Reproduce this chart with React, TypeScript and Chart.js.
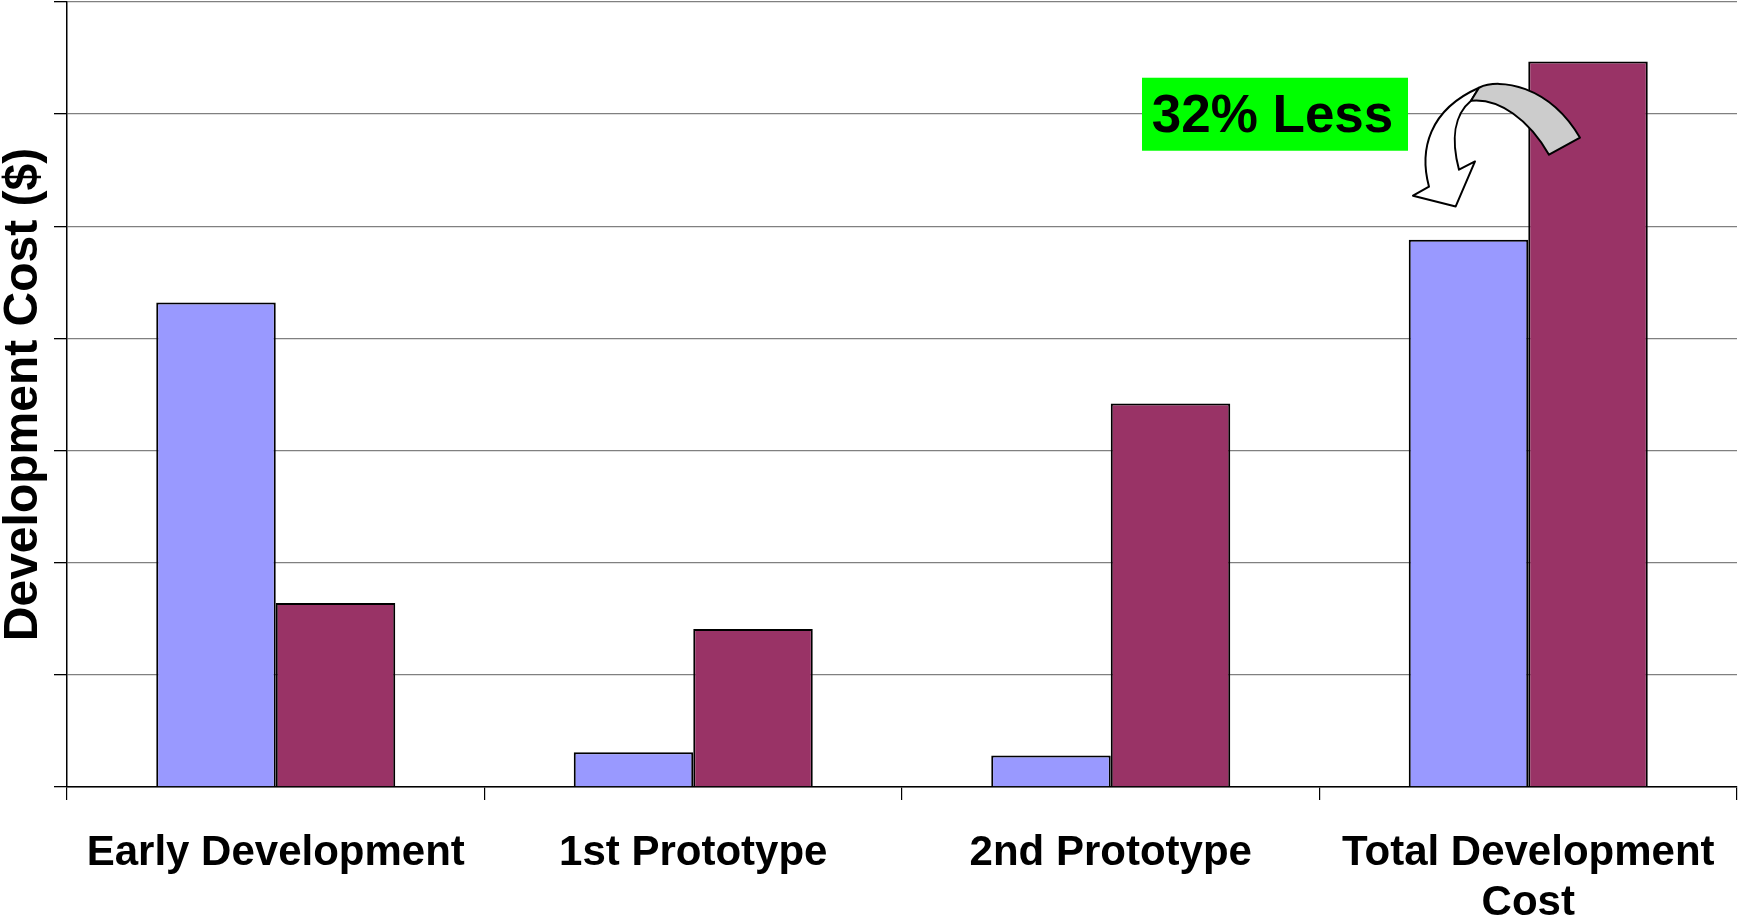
import React, { useEffect, useRef } from "react";
import { Chart, registerables } from "chart.js";

Chart.register(...registerables);

const categories: (string | string[])[] = [
  "Early Development",
  "1st Prototype",
  "2nd Prototype",
  ["Total Development", "Cost"],
];
const seriesA = [4.32, 0.31, 0.28, 4.88];
const seriesB = [1.64, 1.41, 3.42, 6.47];
const yTitle = "Development Cost ($)";
const calloutText = "32% Less";

const FONT = "'Liberation Sans', Arial, sans-serif";

const calloutPlugin = {
  id: "callout",
  afterDatasetsDraw(chart: any) {
    const meta = chart.getDatasetMeta(1);
    const bar = meta && meta.data && meta.data[3];
    if (!bar) return;
    const rx = bar.x;
    const ry = bar.y;
    const p = (dx: number, dy: number): [number, number] => [rx + dx, ry + dy];
    const ctx = chart.ctx;
    ctx.save();
    // green box
    const [bx1, by1] = p(-446, 16.3);
    const [bx2, by2] = p(-180, 89.3);
    ctx.fillStyle = "#00FF00";
    ctx.fillRect(bx1, by1, bx2 - bx1, by2 - by1);
    ctx.fillStyle = "#000";
    ctx.font = `bold 53px ${FONT}`;
    ctx.textAlign = "center";
    ctx.textBaseline = "alphabetic";
    const [tx, ty] = p(-315.5, 71);
    ctx.fillText(calloutText, tx, ty);

    ctx.lineWidth = 2;
    ctx.strokeStyle = "#000";
    ctx.lineJoin = "round";
    // white back part with arrow head
    ctx.beginPath();
    ctx.moveTo(...p(-109, 26.3));
    ctx.bezierCurveTo(...p(-159, 48.3), ...p(-169, 88.3), ...p(-159, 125.3));
    ctx.lineTo(...p(-175, 134.3));
    ctx.lineTo(...p(-132.3, 145));
    ctx.lineTo(...p(-113, 100));
    ctx.lineTo(...p(-129, 108.3));
    ctx.bezierCurveTo(...p(-137, 78.3), ...p(-134, 53.3), ...p(-117, 39.3));
    ctx.closePath();
    ctx.fillStyle = "#FFFFFF";
    ctx.fill();
    ctx.stroke();
    // grey front band
    ctx.beginPath();
    ctx.moveTo(...p(-109, 26.3));
    ctx.bezierCurveTo(...p(-89, 16.3), ...p(-39, 23.3), ...p(-8, 76.3));
    ctx.lineTo(...p(-39, 93.3));
    ctx.bezierCurveTo(...p(-59, 58.3), ...p(-89, 36.3), ...p(-117, 39.3));
    ctx.closePath();
    ctx.fillStyle = "#CCCCCC";
    ctx.fill();
    ctx.stroke();
    ctx.restore();
  },
};

export default function App() {
  const ref = useRef<HTMLCanvasElement | null>(null);
  useEffect(() => {
    if (!ref.current) return;
    const chart = new Chart(ref.current, {
      type: "bar",
      data: {
        labels: categories as any,
        datasets: [
          {
            label: "A",
            data: seriesA,
            backgroundColor: "#9999FF",
            borderColor: "#000000",
            borderWidth: 2,
            categoryPercentage: 0.5725,
            barPercentage: 1.0,
          },
          {
            label: "B",
            data: seriesB,
            backgroundColor: "#993366",
            borderColor: "#000000",
            borderWidth: 2,
            categoryPercentage: 0.5725,
            barPercentage: 1.0,
          },
        ],
      },
      options: {
        responsive: false,
        animation: false,
        layout: { padding: { top: 2, right: 1, bottom: 0, left: 0 } },
        plugins: {
          legend: { display: false },
          tooltip: { enabled: false },
        },
        scales: {
          x: {
            grid: {
              drawOnChartArea: false,
              drawTicks: true,
              tickLength: 13,
              color: "#000000",
              offset: true,
              lineWidth: 1.2,
            },
            border: { display: true, color: "#000000", width: 1.5 },
            ticks: {
              color: "#000000",
              font: { family: FONT, size: 42, weight: "bold", lineHeight: 1.2 },
              padding: 28,
              maxRotation: 0,
              minRotation: 0,
              autoSkip: false,
            },
            afterFit: (scale: any) => {
              scale.height = 133;
              scale.paddingLeft = 0;
              scale.paddingRight = 0;
            },
          },
          y: {
            min: 0,
            max: 7,
            ticks: { stepSize: 1, display: false },
            grid: {
              color: "#808080",
              lineWidth: 1.3,
              tickLength: 13,
              tickColor: "#000000",
              drawTicks: true,
            },
            border: { display: true, color: "#000000", width: 1.5 },
            title: {
              display: true,
              text: yTitle,
              color: "#000000",
              font: { family: FONT, size: 48, weight: "bold", lineHeight: 1 },
              padding: { top: 0, bottom: 0 },
            },
            afterFit: (scale: any) => {
              scale.width = 67;
              scale.paddingTop = 0;
              scale.paddingBottom = 0;
            },
          },
        },
      },
      plugins: [calloutPlugin],
    });
    return () => chart.destroy();
  }, []);
  return (
    <div style={{ position: "fixed", left: 0, top: 0, width: 1738, height: 920, background: "#fff" }}>
      <canvas ref={ref} width={1738} height={920} style={{ display: "block" }} />
    </div>
  );
}
